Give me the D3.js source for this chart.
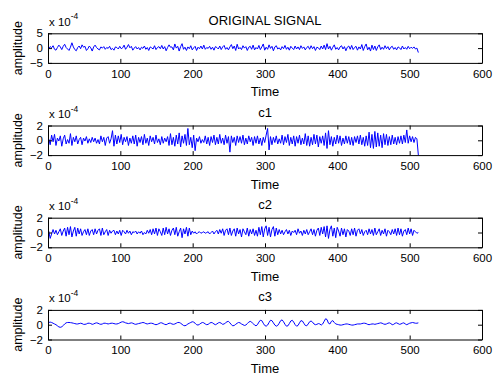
<!DOCTYPE html>
<html><head><meta charset="utf-8">
<script src="https://cdn.jsdelivr.net/npm/d3@7"></script>
<style>
body{margin:0;background:#fff;}
svg{display:block;}
</style></head><body>
<script>
// ---- data (amplitudes in units of 1e-4), 256 samples spanning t = 1..512 ----
const xTicks = [0, 100, 200, 300, 400, 500, 600];
const titles = ["ORIGINAL SIGNAL", "c1", "c2", "c3"];
const yTicksOriginal = [-5, 0, 5];
const yTicksImf = [-2, 0, 2];

const originalSignal = [
-0.3,0.5,0.1,0.8,-0.4,-0.7,0.2,1.0,0.4,-0.5,0.6,1.3,0.2,-0.3,-0.8,0.3,
1.8,0.4,-0.5,-0.9,0.2,0.7,-0.2,1.1,0.3,0.6,-0.8,-0.2,0.7,0.1,-1.0,0.4,
1.0,0.2,-0.3,-0.6,0.4,0.0,0.5,-0.4,0.2,-0.1,0.6,-0.5,-0.1,-0.7,0.4,0.2,
-0.3,0.6,-0.2,0.1,1.0,-0.4,0.3,1.2,0.1,0.6,-0.7,0.0,0.5,-0.3,0.2,-0.6,
0.3,-0.1,0.7,-0.4,0.2,-0.8,0.4,0.1,-0.3,0.8,-0.5,0.2,0.5,-0.2,0.9,-0.3,
0.5,-0.9,0.2,1.1,0.3,0.4,-0.6,1.4,0.0,0.6,-1.0,0.5,1.5,-0.4,0.3,-0.8,
0.4,-0.2,0.8,-0.6,0.1,0.6,-0.8,0.3,-0.2,0.7,-0.3,1.0,-0.4,0.2,-0.1,0.6,
-0.4,0.3,-0.7,0.5,0.2,-0.3,0.7,-0.5,0.4,0.9,-0.4,0.2,-0.6,0.4,1.2,-0.2,
0.7,-0.8,1.3,-0.3,0.2,-0.5,0.8,0.0,0.5,-0.8,0.3,0.6,-0.4,1.0,-0.6,0.2,
-0.3,0.9,-0.5,0.4,1.4,-0.7,0.3,-0.4,1.1,-0.1,0.6,-0.9,0.4,0.8,-0.3,0.1,
-0.6,0.5,-0.2,0.9,-0.4,0.3,-0.7,0.6,0.0,-0.5,0.7,-0.3,0.4,-0.5,0.8,-0.1,
0.4,-0.6,0.2,0.6,-0.4,0.8,-0.2,0.5,-0.8,0.3,0.1,-0.5,0.7,-0.3,1.0,-0.5,
1.5,-0.3,0.6,-0.7,0.3,1.1,-0.4,0.2,-0.6,0.4,0.8,-0.3,0.5,-0.9,0.3,0.7,
-0.4,0.9,-0.5,0.2,0.6,-0.7,0.4,-0.3,1.2,-0.8,0.5,1.4,-0.6,0.3,-1.0,1.0,
-0.5,0.7,-0.8,0.4,1.1,-0.5,0.3,-0.4,0.8,-0.2,0.5,-0.6,0.3,0.6,-0.4,0.2,
-0.6,0.4,0.1,-0.5,0.7,-0.3,0.2,-0.4,0.6,-0.2,0.3,-0.1,0.4,-0.3,0.0,-1.5
];

const c1 = [
0.2,-0.6,0.7,-0.2,0.8,-0.7,0.3,-0.1,0.6,-0.8,0.2,0.7,-0.5,0.1,-0.4,0.9,
-0.7,0.4,-0.2,0.6,-0.5,0.1,0.4,-0.6,0.3,-0.1,0.5,-0.4,0.2,-0.3,0.4,-0.2,
0.3,-0.4,0.1,-0.5,0.6,-0.2,0.4,-0.7,0.3,0.5,-0.4,0.2,1.3,-0.8,0.7,-0.5,
0.6,-0.3,0.8,-0.6,0.4,-0.2,0.5,-0.7,0.3,-0.4,0.6,-0.5,0.7,-0.8,0.4,-0.3,
0.5,-0.6,0.8,-0.4,0.3,-0.7,0.6,-0.2,0.4,-0.5,0.7,-0.3,0.2,-0.6,0.5,-0.4,
0.3,-0.2,0.5,-0.7,0.9,-0.6,0.4,-0.8,0.7,-0.5,1.0,-0.9,0.6,-0.4,0.8,-0.7,
1.6,-0.6,0.4,-1.0,0.7,-1.4,0.3,-0.2,0.5,-0.4,0.1,-0.3,0.6,-0.5,0.4,-0.7,
0.5,-0.3,0.7,-0.6,0.4,-0.5,0.8,-0.4,0.3,-0.6,0.7,-0.4,0.5,-1.6,0.6,-0.3,
0.4,-0.7,0.6,-0.3,0.5,-0.4,0.7,-0.6,0.3,-0.5,0.6,-0.2,0.4,-0.7,0.5,-0.4,
0.6,-0.5,0.3,-0.7,0.4,-0.3,0.7,1.6,-1.3,0.5,-0.6,0.4,-0.3,0.6,-0.5,0.2,
-0.4,0.7,-0.6,0.5,-0.3,0.8,-0.7,0.4,-0.5,0.6,-0.8,0.5,-0.4,0.7,-0.6,0.3,
-0.5,0.9,-0.7,0.6,-0.8,0.4,-0.6,0.8,-0.5,0.7,-0.9,0.5,-0.4,0.6,-0.7,1.0,
-1.1,1.3,-0.6,0.5,-0.8,0.4,-0.5,0.7,-0.4,0.6,-0.7,0.3,-0.5,0.6,-0.4,0.5,
-0.6,0.4,-0.7,0.5,-0.3,0.6,-0.5,0.7,-0.6,0.4,-0.8,0.6,-0.7,1.1,-1.0,0.8,
-1.1,1.2,-0.9,1.0,-0.8,0.7,-1.0,0.9,-0.6,0.8,-0.7,0.5,-0.6,0.7,-0.5,0.4,
-0.6,0.5,-0.4,0.6,-0.5,0.7,-0.3,1.4,-0.4,0.6,-0.2,0.5,-0.3,0.4,0.2,-2.0
];

const c2 = [
0.2,-0.8,-0.2,0.4,-0.2,0.3,-0.3,0.1,0.5,-0.4,0.2,0.6,-0.5,0.7,-0.3,0.8,
-0.6,0.2,0.7,-0.5,0.6,-0.2,0.5,-0.4,0.1,0.4,-0.3,0.5,-0.4,0.2,0.4,-0.3,
0.5,-0.2,0.3,0.5,-0.4,0.6,-0.3,0.1,0.4,-0.4,0.3,-0.1,0.2,0.3,-0.3,0.2,
-0.2,0.3,-0.4,0.3,0.1,-0.2,0.3,-0.1,0.2,-0.3,0.1,0.0,0.2,-0.2,0.1,-0.1,
0.2,-0.3,0.0,-0.2,0.3,-0.1,0.4,-0.3,0.5,-0.2,0.6,-0.4,0.5,0.1,-0.4,0.6,
-0.3,0.7,-0.2,0.5,-0.4,0.3,0.6,-0.3,0.7,-0.5,0.1,0.6,-0.7,0.5,-0.2,0.7,
-0.5,0.6,-0.3,0.2,-0.1,0.1,-0.2,0.0,0.1,-0.1,0.0,0.1,-0.1,0.0,0.1,-0.2,
0.0,0.2,-0.2,0.1,0.3,-0.2,0.4,-0.1,0.5,-0.4,0.3,0.5,-0.3,0.6,-0.4,0.2,
0.5,-0.5,0.6,-0.2,0.4,-0.6,0.5,0.1,-0.3,0.6,-0.5,0.4,-0.2,0.5,-0.4,0.3,
-0.5,0.7,-0.3,0.8,-0.6,0.5,0.9,-0.4,0.7,-0.6,0.4,0.8,-0.5,0.6,-0.3,0.4,
-0.2,0.3,-0.3,0.1,0.4,-0.2,0.3,-0.4,0.2,0.0,0.3,-0.3,0.5,-0.1,0.2,-0.4,
0.3,-0.2,0.4,-0.3,0.1,0.5,-0.3,0.4,-0.5,0.3,0.6,-0.4,0.7,-0.2,0.8,-0.6,
0.9,-0.8,0.4,0.9,-0.5,0.6,-0.7,0.7,0.2,-0.5,0.6,-0.3,0.5,-0.6,0.4,0.2,
-0.4,0.5,-0.3,0.6,-0.5,0.3,0.5,-0.2,0.4,-0.4,0.1,0.3,-0.3,0.5,-0.2,0.4,
-0.4,0.6,-0.3,0.1,0.5,-0.4,0.3,-0.2,0.5,-0.5,0.3,0.1,-0.3,0.4,-0.2,0.5,
-0.4,0.6,-0.3,0.5,-0.5,0.2,0.4,-0.3,0.6,-0.2,0.5,-0.4,0.3,0.1,-0.1,0.0
];

const c3 = [
0.3,0.35,0.3,0.2,0.1,0.0,-0.15,-0.3,-0.35,-0.3,-0.1,0.1,0.25,0.3,0.3,0.28,
0.25,0.2,0.15,0.1,0.1,0.15,0.2,0.15,0.05,0.05,0.1,0.2,0.2,0.15,0.05,0.1,
0.2,0.25,0.2,0.1,0.05,0.1,0.2,0.2,0.15,0.1,0.15,0.2,0.2,0.15,0.1,0.1,
0.15,0.25,0.35,0.4,0.35,0.25,0.2,0.15,0.2,0.25,0.2,0.1,0.05,0.1,0.15,0.2,
0.25,0.3,0.25,0.15,0.1,0.15,0.2,0.2,0.15,0.05,0.0,0.05,0.15,0.25,0.25,0.15,
0.05,0.0,0.1,0.2,0.2,0.1,0.05,0.1,0.2,0.3,0.3,0.2,0.05,-0.1,-0.15,-0.05,
0.1,0.2,0.3,0.4,0.35,0.2,0.0,-0.05,0.05,0.2,0.3,0.25,0.1,0.0,0.05,0.2,
0.3,0.25,0.1,0.0,0.1,0.25,0.3,0.2,0.05,0.1,0.25,0.4,0.45,0.25,0.0,-0.15,
-0.1,0.05,0.2,0.3,0.25,0.1,0.0,-0.1,-0.05,0.15,0.35,0.45,0.35,0.15,-0.05,-0.15,
0.0,0.35,0.6,0.55,0.2,-0.1,-0.2,-0.05,0.3,0.6,0.55,0.25,-0.05,-0.2,-0.1,0.2,
0.55,0.65,0.4,0.05,-0.2,-0.15,0.15,0.5,0.6,0.35,0.0,-0.2,-0.1,0.25,0.55,0.5,
0.2,-0.1,-0.15,0.1,0.4,0.5,0.35,0.1,0.0,0.05,0.15,0.1,-0.05,0.1,0.45,0.8,
0.7,0.2,0.1,0.45,0.55,0.3,0.1,0.05,0.0,-0.05,-0.05,0.0,0.05,0.1,0.1,0.05,
0.0,-0.05,-0.05,0.0,0.05,0.1,0.1,0.1,0.15,0.2,0.2,0.15,0.05,0.0,0.05,0.1,
0.1,0.05,0.1,0.15,0.2,0.25,0.2,0.1,0.05,0.1,0.2,0.25,0.15,0.0,0.05,0.2,
0.25,0.15,0.05,0.1,0.2,0.25,0.1,0.0,0.1,0.2,0.25,0.3,0.25,0.2,0.2,0.25
];

// ---- drawing ----
const W = 501, H = 385;
const tickFont = "'Liberation Sans Narrow','Arial Narrow',sans-serif";
const labelFont = "'Liberation Sans',Arial,Helvetica,sans-serif";

const svg = d3.select("body").append("svg").attr("width", W).attr("height", H);
svg.append("rect").attr("width", W).attr("height", H).attr("fill", "#fff");

const left = 48, right = 482, top0 = 33.3, step = 92.2, ph = 29.6;
const x = d3.scaleLinear().domain([0, 600]).range([left, right]);
const fmt = d3.format("d");

const panels = [
  {title: titles[0], data: originalSignal, ydom: [-5, 5], ticks: yTicksOriginal},
  {title: titles[1], data: c1, ydom: [-2, 2], ticks: yTicksImf},
  {title: titles[2], data: c2, ydom: [-2, 2], ticks: yTicksImf},
  {title: titles[3], data: c3, ydom: [-2, 2], ticks: yTicksImf}
];

function styleAxis(g, showText) {
  g.select(".domain").attr("stroke", "#000").attr("stroke-width", 1);
  g.selectAll(".tick line").attr("stroke", "#000").attr("stroke-width", 1);
  g.selectAll(".tick text").attr("fill", "#000")
    .attr("font-family", tickFont).attr("font-size", 11.5);
  if (!showText) g.selectAll(".tick text").remove();
}

panels.forEach((p, k) => {
  const top = top0 + k * step, bot = top + ph;
  const y = d3.scaleLinear().domain(p.ydom).range([bot, top]);
  const g = svg.append("g");
  const n = p.data.length;
  const tAt = i => 1 + i * 511 / (n - 1);

  // signal
  g.append("path").datum(p.data)
    .attr("fill", "none").attr("stroke", "#0000ff").attr("stroke-width", 1)
    .attr("d", d3.line().x((d, i) => x(tAt(i))).y(d => y(d)));

  // axes (box with inward ticks)
  g.append("g").attr("transform", `translate(0,${bot})`)
    .call(d3.axisBottom(x).tickValues(xTicks).tickFormat(fmt).tickSize(-4).tickSizeOuter(0).tickPadding(6.5))
    .call(a => styleAxis(a, true));
  g.append("g").attr("transform", `translate(0,${top})`)
    .call(d3.axisTop(x).tickValues(xTicks).tickSize(-4).tickSizeOuter(0))
    .call(a => styleAxis(a, false));
  g.append("g").attr("transform", `translate(${left},0)`)
    .call(d3.axisLeft(y).tickValues(p.ticks).tickFormat(fmt).tickSize(-4).tickSizeOuter(0).tickPadding(5))
    .call(a => styleAxis(a, true));
  g.append("g").attr("transform", `translate(${right},0)`)
    .call(d3.axisRight(y).tickValues(p.ticks).tickSize(-4).tickSizeOuter(0))
    .call(a => styleAxis(a, false));

  // exponent label
  const ex = g.append("text").attr("x", left + 1).attr("y", top - 7.5)
    .attr("font-family", tickFont).attr("font-size", 11.5).attr("fill", "#000");
  ex.append("tspan").text("x 10");
  ex.append("tspan").attr("dy", -6.5).attr("font-size", 8.5).text("-4");

  // title
  g.append("text").attr("x", (left + right) / 2).attr("y", top - 8.5)
    .attr("text-anchor", "middle").attr("font-family", labelFont).attr("font-size", 13)
    .attr("fill", "#000").text(p.title);

  // x label
  g.append("text").attr("x", (left + right) / 2).attr("y", bot + 33.5)
    .attr("text-anchor", "middle").attr("font-family", labelFont).attr("font-size", 13)
    .attr("fill", "#000").text("Time");

  // y label
  g.append("text").attr("transform", `translate(21.5,${(top + bot) / 2}) rotate(-90)`)
    .attr("text-anchor", "middle").attr("font-family", labelFont).attr("font-size", 12.5)
    .attr("fill", "#000").text("amplitude");
});
</script>
</body></html>
